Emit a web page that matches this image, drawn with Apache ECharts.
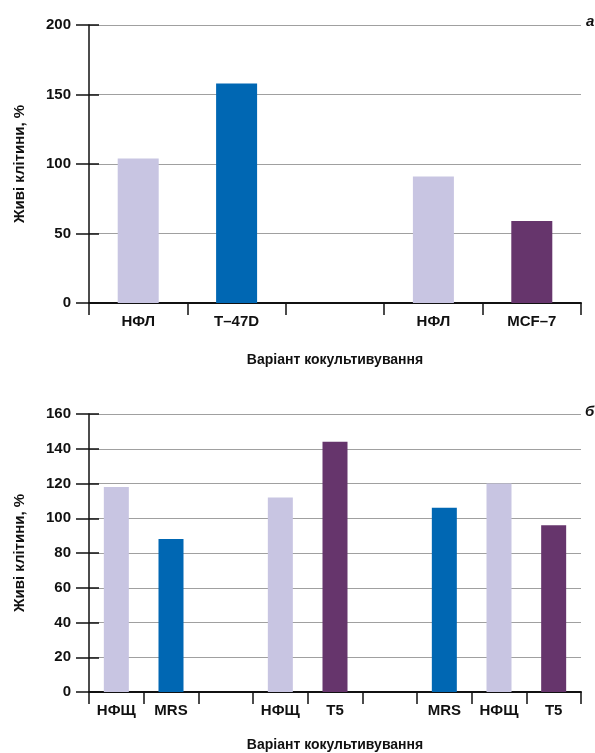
<!DOCTYPE html>
<html>
<head>
<meta charset="utf-8">
<script src="https://cdn.jsdelivr.net/npm/echarts@6/dist/echarts.min.js"></script>
<style>
  html, body { margin: 0; padding: 0; background: #fff; }
  #chart { width: 595px; height: 753px; }
</style>
</head>
<body>
<div id="chart"></div>
<script>
// panel а
const catsA = ["НФЛ", "T–47D", "", "НФЛ", "MCF–7"];
const fibroA = [104, null, null, 91, null];
const blueA = [null, 158, null, null, null];
const purpleA = [null, null, null, null, 59];
const ticksA = { min: 0, max: 200, interval: 50 };

// panel б
const catsB = ["НФЩ", "MRS", "", "НФЩ", "T5", "", "MRS", "НФЩ", "T5"];
const fibroB = [118, null, null, 112, null, null, null, 120, null];
const blueB = [null, 88, null, null, null, null, 106, null, null];
const purpleB = [null, null, null, null, 144, null, null, null, 96];
const ticksB = { min: 0, max: 160, interval: 20 };

const yName = "Живі клітини, %";
const xName = "Варіант кокультивування";

const FONT = "Liberation Sans";
const C_FIBRO = "#c8c5e2";
const C_BLUE = "#0067b3";
const C_PURPLE = "#66356c";

const chart = echarts.init(document.getElementById("chart"));

const txt = { color: "#111", fontFamily: FONT, fontSize: 15, fontWeight: "bold" };

function xAxis(idx, cats, gap) {
  return {
    type: "category",
    gridIndex: idx,
    data: cats,
    boundaryGap: true,
    name: xName,
    nameLocation: "middle",
    nameGap: gap,
    nameTextStyle: Object.assign({}, txt, { fontSize: 14 }),
    axisLine: { lineStyle: { color: "#111", width: 2 } },
    axisTick: { show: true, length: 12, lineStyle: { color: "#111", width: 1.5 } },
    axisLabel: Object.assign({ margin: 11, interval: 0 }, txt),
  };
}

function yAxis(idx, t) {
  return {
    type: "value",
    gridIndex: idx,
    position: "left",
    min: t.min,
    max: t.max,
    interval: t.interval,
    name: yName,
    nameLocation: "middle",
    nameGap: 62,
    nameTextStyle: Object.assign({}, txt),
    axisLine: { show: true, lineStyle: { color: "#111", width: 1.5 } },
    axisTick: { show: true, length: 13, lineStyle: { color: "#111", width: 1.5 } },
    axisLabel: Object.assign({ margin: 18 }, txt),
    splitLine: { show: true, lineStyle: { color: "#a0a0a0", width: 1.2 } },
  };
}

// overlay axis only for the inward half of the ticks
function yTicksIn(idx, t) {
  return {
    type: "value",
    gridIndex: idx,
    position: "left",
    min: t.min,
    max: t.max,
    interval: t.interval,
    axisLine: { show: false },
    axisTick: { show: true, inside: true, length: 10, lineStyle: { color: "#111", width: 1.5 } },
    axisLabel: { show: false },
    splitLine: { show: false },
  };
}

function bar(name, data, color, xi, yi, w, stack) {
  return {
    name: name,
    type: "bar",
    xAxisIndex: xi,
    yAxisIndex: yi,
    stack: stack,
    data: data,
    barWidth: w,
    itemStyle: { color: color },
  };
}

const option = {
  animation: false,
  backgroundColor: "#fff",
  title: [
    { text: "а", left: 581, top: 9, textStyle: { fontFamily: FONT, fontSize: 15, fontStyle: "italic", fontWeight: "bold", color: "#111" } },
    { text: "б", left: 580, top: 399, textStyle: { fontFamily: FONT, fontSize: 15, fontStyle: "italic", fontWeight: "bold", color: "#111" } },
  ],
  grid: [
    { left: 89, top: 25, width: 492, height: 278, outerBoundsMode: "none" },
    { left: 89, top: 414, width: 492, height: 278, outerBoundsMode: "none" },
  ],
  xAxis: [xAxis(0, catsA, 50), xAxis(1, catsB, 46)],
  yAxis: [yAxis(0, ticksA), yAxis(1, ticksB), yTicksIn(0, ticksA), yTicksIn(1, ticksB)],
  series: [
    bar("НФЛ", fibroA, C_FIBRO, 0, 0, 41, "a"),
    bar("T-47D", blueA, C_BLUE, 0, 0, 41, "a"),
    bar("MCF-7", purpleA, C_PURPLE, 0, 0, 41, "a"),
    bar("НФЩ", fibroB, C_FIBRO, 1, 1, 25, "b"),
    bar("MRS", blueB, C_BLUE, 1, 1, 25, "b"),
    bar("T5", purpleB, C_PURPLE, 1, 1, 25, "b"),
  ],
};

chart.setOption(option);
</script>
</body>
</html>
